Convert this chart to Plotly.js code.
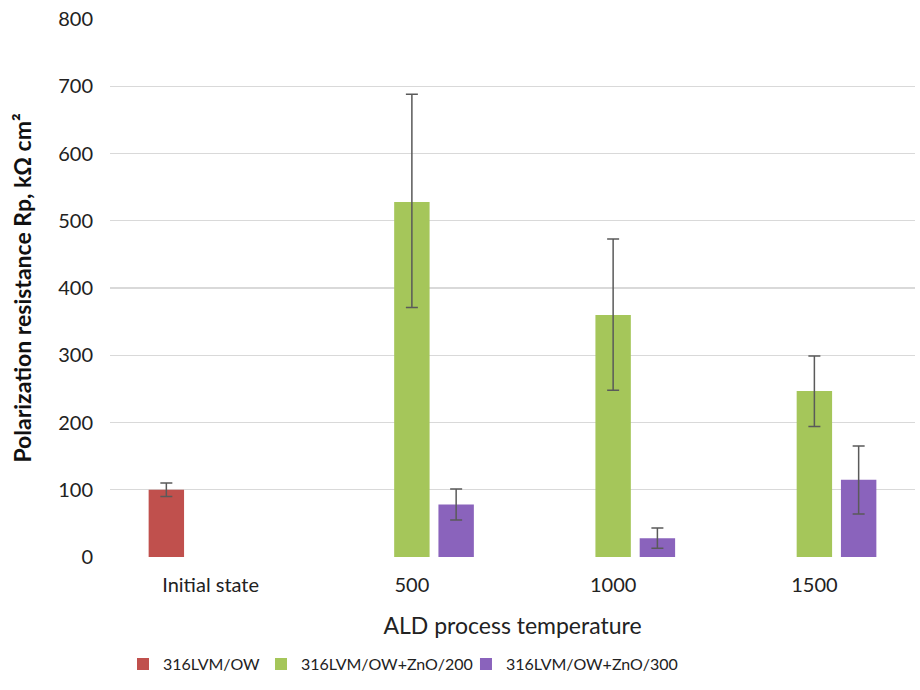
<!DOCTYPE html>
<html>
<head>
<meta charset="utf-8">
<script src="https://cdn.plot.ly/plotly-3.0.1.min.js"></script>
<style>
  html, body { margin: 0; padding: 0; background: #fff; }
  #chart { width: 920px; height: 690px; }
</style>
</head>
<body>
<div id="chart"></div>
<script>
// Temperature categories on the x axis
const categories = ["Initial state", "500", "1000", "1500"];

// Polarization resistance Rp (kΩ cm²) per sample series
const seriesNames = ["316LVM/OW", "316LVM/OW+ZnO/200", "316LVM/OW+ZnO/300"];
const rpBase   = [100, null, null, null];
const rpZnO200 = [null, 528, 360, 247];
const rpZnO300 = [null, 78, 28, 115];

// Error bar extents (upper / lower)
const errBasePlus    = [10, 0, 0, 0];
const errBaseMinus   = [10, 0, 0, 0];
const errZnO200Plus  = [0, 160, 113, 52];
const errZnO200Minus = [0, 157, 112, 53];
const errZnO300Plus  = [0, 23, 15, 50];
const errZnO300Minus = [0, 23, 15, 51];

const yTicks = [0, 100, 200, 300, 400, 500, 600, 700, 800];

const colors = ["#C0504D", "#A5C65A", "#8A63BC"];
const fontFam = "Lato, 'Open Sans', 'Liberation Sans', sans-serif";

function errBar(plus, minus) {
  return {
    type: "data", symmetric: false, array: plus, arrayminus: minus,
    color: "#5a5a5a", thickness: 1.5, width: 6, visible: true
  };
}

const values = [rpBase, rpZnO200, rpZnO300];
const plus = [errBasePlus, errZnO200Plus, errZnO300Plus];
const minus = [errBaseMinus, errZnO200Minus, errZnO300Minus];
// each series gets its own legend box so the entries can be spaced freely
const legendIds = ["legend", "legend2", "legend3"];
const legendX = [0.1337, 0.2837, 0.5065];

const traces = seriesNames.map((name, i) => ({
  type: "bar",
  name: name,
  x: categories,
  y: values[i],
  legend: legendIds[i],
  marker: { color: colors[i] },
  error_y: errBar(plus[i], minus[i]),
  hoverinfo: "x+y+name"
}));

function legendBox(x) {
  return {
    orientation: "h",
    xref: "container", yref: "container",
    x: x, xanchor: "left",
    y: 0.062, yanchor: "top",
    font: { size: 16, color: "#222" },
    itemwidth: 30,
    bgcolor: "rgba(0,0,0,0)"
  };
}

const layout = {
  width: 920,
  height: 690,
  margin: { l: 110, r: 5, t: 19, b: 133 },
  paper_bgcolor: "#ffffff",
  plot_bgcolor: "#ffffff",
  barmode: "group",
  bargap: 0.34,
  bargroupgap: 0.2,
  font: { family: fontFam, color: "#222", size: 19 },
  xaxis: {
    type: "category",
    automargin: false,
    showgrid: false,
    showline: false,
    ticks: "",
    ticklabelstandoff: 14,
    tickfont: { size: 20, color: "#222" },
    title: { text: "ALD process temperature", font: { size: 23, color: "#222" }, standoff: 22 }
  },
  yaxis: {
    automargin: false,
    range: [0, 800],
    tickvals: yTicks,
    ticktext: yTicks.map(String),
    showgrid: true,
    gridcolor: "#d9d9d9",
    gridwidth: 1.3,
    zeroline: false,
    showline: false,
    ticks: "",
    ticklen: 0,
    ticklabelstandoff: 16,
    tickfont: { size: 20, color: "#222" },
    title: {
      text: "<b>Polarization resistance Rp, kΩ cm²</b>",
      font: { size: 23, color: "#111" },
      standoff: 20
    }
  },
  legend: legendBox(legendX[0]),
  legend2: legendBox(legendX[1]),
  legend3: legendBox(legendX[2]),
  showlegend: true
};

Plotly.newPlot("chart", traces, layout, { displayModeBar: false, staticPlot: true });
</script>
</body>
</html>
